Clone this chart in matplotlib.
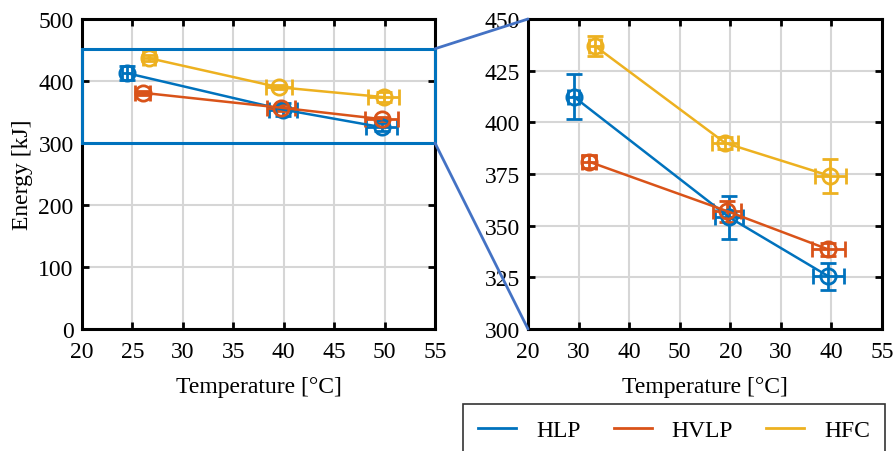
import matplotlib
matplotlib.use("Agg")
import matplotlib.pyplot as plt
from matplotlib.patches import Rectangle, ConnectionPatch
from matplotlib.lines import Line2D

plt.rcParams['font.family'] = ['Liberation Serif', 'DejaVu Serif']

series = ['HLP', 'HVLP', 'HFC']
colors = ['#0072BD', '#D95319', '#EDB120']

temp_hlp = [24.5, 39.9, 49.7]
energy_hlp = [412.5, 354, 325.5]
terr_hlp = [0.5, 1.4, 1.5]
eerr_hlp = [11, 10.5, 6.5]

temp_hvlp = [26.0, 39.7, 49.7]
energy_hvlp = [381, 357, 338.5]
terr_hvlp = [0.7, 1.4, 1.6]
eerr_hvlp = [3, 5, 3]

temp_hfc = [26.6, 39.5, 49.9]
energy_hfc = [437, 390, 374]
terr_hfc = [0.6, 1.3, 1.5]
eerr_hfc = [5, 3, 8.4]

xticks = [20, 25, 30, 35, 40, 45, 50, 55]
right_xticklabels = ['20', '30', '40', '50', '20', '30', '40', '55']
left_yticks = [0, 100, 200, 300, 400, 500]
right_yticks = [300, 325, 350, 375, 400, 425, 450]
zoom_box = (300, 452)

data = [
    (temp_hlp, energy_hlp, terr_hlp, eerr_hlp),
    (temp_hvlp, energy_hvlp, terr_hvlp, eerr_hvlp),
    (temp_hfc, energy_hfc, terr_hfc, eerr_hfc),
]

W, H = 894, 452
fig = plt.figure(figsize=(W / 100, H / 100), dpi=100)
ax1 = fig.add_axes([82 / W, 1 - 330 / H, (435 - 82) / W, (330 - 20) / H])
ax2 = fig.add_axes([528 / W, 1 - 330 / H, (882 - 528) / W, (330 - 20) / H])

FS = 17
for ax in (ax1, ax2):
    for (x, y, xe, ye), c, name in zip(data, colors, series):
        ax.errorbar(x, y, xerr=xe, yerr=ye, color=c, marker='o', ms=11,
                    mfc='none', mew=2, lw=1.8, elinewidth=2, capsize=6,
                    capthick=2, label=name, zorder=3)
    ax.set_xlim(20, 55)
    ax.set_xticks(xticks)
    ax.grid(True, color='#d6d6d6', lw=1.5, zorder=0)
    ax.set_axisbelow(True)
    ax.tick_params(direction='in', top=True, right=True, length=5, width=2,
                   labelsize=FS)
    ax.tick_params(axis='x', pad=9)
    ax.tick_params(axis='y', pad=6)
    for s in ax.spines.values():
        s.set_linewidth(2.2)
    ax.set_xlabel('Temperature [°C]', fontsize=FS, labelpad=10)

ax1.set_ylim(0, 500)
ax1.set_yticks(left_yticks)
ax1.set_ylabel('Energy [kJ]', fontsize=FS, labelpad=4)

ax2.set_ylim(300, 450)
ax2.set_yticks(right_yticks)
ax2.set_xticklabels(right_xticklabels)

rect = Rectangle((20, zoom_box[0]), 35, zoom_box[1] - zoom_box[0], fill=False,
                 edgecolor='#0072BD', lw=2.2, clip_on=False, zorder=5)
ax1.add_patch(rect)

for y1, y2 in ((zoom_box[1], 450), (zoom_box[0], 300)):
    con = ConnectionPatch(xyA=(55, y1), coordsA=ax1.transData,
                          xyB=(20, y2), coordsB=ax2.transData,
                          color='#4472C4', lw=2)
    fig.add_artist(con)

lh = [Line2D([], [], color=c, lw=2) for c in colors]
leg = fig.legend(lh, series, loc='upper left',
                 bbox_to_anchor=(463 / W, 1 - 405 / H), ncol=3, fontsize=FS,
                 frameon=True, fancybox=False, edgecolor='black',
                 handlelength=1.6, columnspacing=1.4, handletextpad=0.85,
                 borderpad=0.65, borderaxespad=0)
leg.get_frame().set_linewidth(1.2)

fig.savefig('out.png', dpi=100)
